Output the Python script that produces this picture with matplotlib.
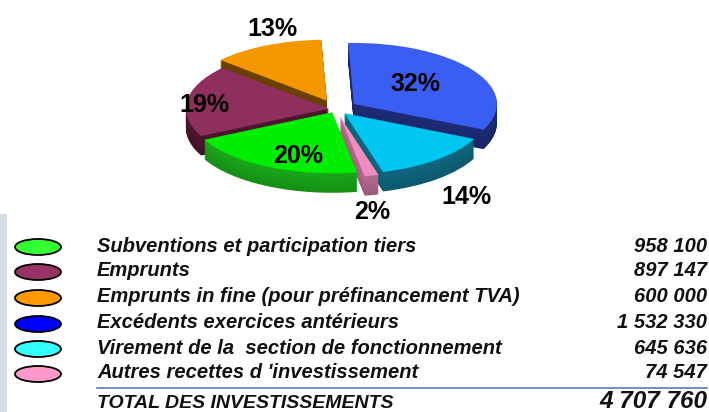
import numpy as np
import matplotlib.pyplot as plt
from matplotlib.patches import Ellipse, Rectangle
from matplotlib.colors import to_rgb

labels = ['Subventions et participation tiers',
          'Emprunts',
          'Emprunts in fine (pour préfinancement TVA)',
          'Excédents exercices antérieurs',
          'Virement de la  section de fonctionnement',
          "Autres recettes d 'investissement"]
amounts = [958100, 897147, 600000, 1532330, 645636, 74547]
pct_labels = ['20%', '19%', '13%', '32%', '14%', '2%']
value_texts = ['958 100', '897 147', '600 000', '1 532 330', '645 636', '74 547']
total_label = 'TOTAL DES INVESTISSEMENTS'
total_text = '4 707 760'

top_colors = ['#00ee00', '#8e2f5e', '#f59800', '#3a5ef2', '#00c6f2', '#f08cc0']
side_colors = ['#19a819', '#4e1630', '#6e4300', '#1d2c78', '#0f6880', '#b86a90']
key_colors = ['#33ff33', '#993366', '#ff9900', '#0000ff', '#33ffff', '#ff99cc']
explode = [0.06, 0.05, 0.15, 0.15, 0.09, 0.12]

W, H = 709, 412
fig = plt.figure(figsize=(W / 100, H / 100), dpi=100)
fig.patch.set_facecolor('white')

# ---- table part (pixel coordinates)
tab = fig.add_axes([0, 0, 1, 1])
tab.set_xlim(0, W)
tab.set_ylim(H, 0)
tab.axis('off')

tab.add_patch(Rectangle((0, 214), 7, H - 214, color='#d6dde8', lw=0))

fam = 'Liberation Sans'
txt = dict(fontsize=14.5, fontweight='bold', style='italic', family=fam,
           va='center', color='#111111')
row_y = [246, 271, 297, 323, 348, 373]
for i in range(len(labels)):
    tab.add_patch(Ellipse((38, row_y[i] + 1), 46, 16, facecolor=key_colors[i],
                          edgecolor='black', lw=1.3))
    tab.text(97, row_y[i], labels[i], ha='left', **txt)
    tab.text(707, row_y[i], value_texts[i], ha='right', **txt)

tab.plot([97, 707], [388, 388], color='#5b7db5', lw=1.2)
tab.text(97, 404, total_label, ha='left', **dict(txt, fontsize=14))
tab.text(707, 401, total_text, ha='right', **dict(txt, fontsize=17.5))

# ---- 3D-looking pie
px0, px1, py0, py1 = 170, 515, 0, 222   # axes box in pixels (y from top)
cx, cy = 336, 109                        # pie centre in pixels
Rx, Ry = 143, 61                         # pixels per unit
pie = fig.add_axes([px0 / W, 1 - py1 / H, (px1 - px0) / W, (py1 - py0) / H])

depth = 0.32
n_layers = 24
for k in range(n_layers, 0, -1):
    dy = depth * k / n_layers
    shade = 0.85 + 0.15 * (1 - k / n_layers)
    cols = [tuple(min(1, c * shade) for c in to_rgb(sc)) for sc in side_colors]
    pie.pie(amounts, explode=explode, colors=cols, startangle=-80, counterclock=False,
            center=(0, -dy), radius=1, frame=True,
            wedgeprops=dict(linewidth=0))
wedges, _ = pie.pie(amounts, explode=explode, colors=top_colors, startangle=-80,
                    counterclock=False, center=(0, 0), radius=1, frame=True,
                    wedgeprops=dict(linewidth=0))
pie.set_aspect('auto')
pie.set_xlim((px0 - cx) / Rx, (px1 - cx) / Rx)
pie.set_ylim(-(py1 - cy) / Ry, (cy - py0) / Ry)
pie.axis('off')
pie.patch.set_alpha(0)

# label placement: radial distance plus small nudges (data units)
lab_r = [0.8, 0.88, 1.3, 0.6, 1.4, 1.1]
lab_dx = [0.12, 0.0, 0.17, -0.07, -0.05, -0.02]
lab_dy = [0, -0.05, 0.0, 0, -0.3, -0.5]
for i, w in enumerate(wedges):
    mid = np.deg2rad((w.theta1 + w.theta2) / 2)
    x = w.center[0] + lab_r[i] * np.cos(mid) + lab_dx[i]
    y = w.center[1] + lab_r[i] * np.sin(mid) + lab_dy[i]
    pie.text(x, y, pct_labels[i], fontsize=18, fontweight='bold', family=fam,
             ha='center', va='center', color='black')

fig.savefig('out.png', dpi=100)
